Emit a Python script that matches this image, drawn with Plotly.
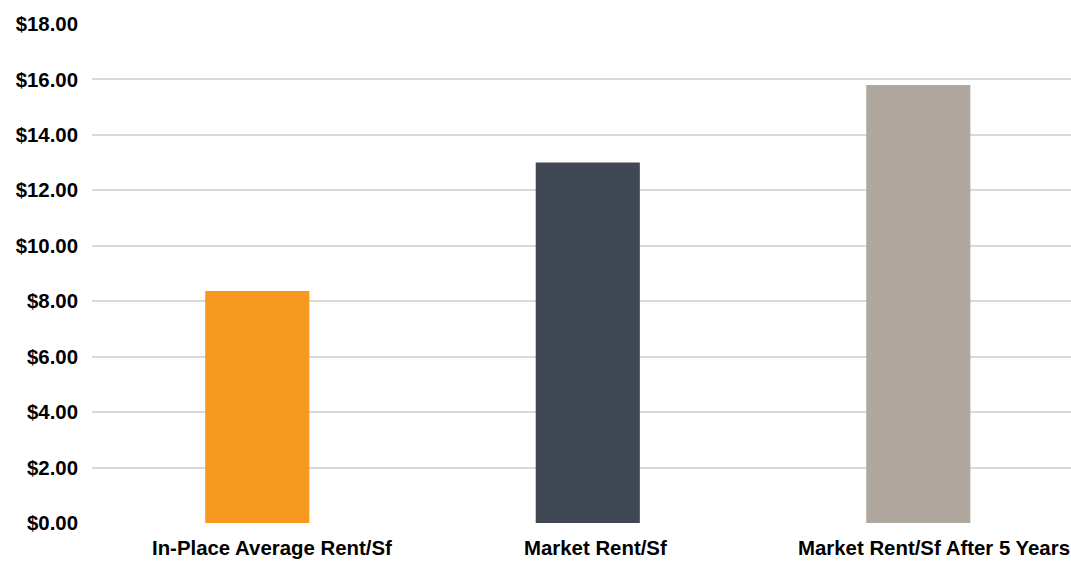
import plotly.graph_objects as go

categories = ["In-Place Average Rent/Sf", "Market Rent/Sf", "Market Rent/Sf After 5 Years"]
values = [8.37, 13.0, 15.8]
colors = ["#F7991E", "#404853", "#B0A79E"]
label_shifts = [15, 8, 16]
y_ticks = [0, 2, 4, 6, 8, 10, 12, 14, 16, 18]
y_tick_labels = ["$%.2f" % v for v in y_ticks]

FONT = "Liberation Sans, Arial, sans-serif"

fig = go.Figure(go.Bar(
    x=categories, y=values, marker=dict(color=colors, line=dict(width=0)),
    width=0.315,
))

for cat, sh in zip(categories, label_shifts):
    fig.add_annotation(
        x=cat, xref="x", y=-0.0501, yref="paper", yanchor="middle",
        text="<b>%s</b>" % cat, showarrow=False, xshift=sh,
        font=dict(size=20.4, family=FONT, color="black"),
    )

fig.update_layout(
    width=1071, height=561,
    margin=dict(l=92, r=0, t=24, b=38),
    paper_bgcolor="white", plot_bgcolor="white",
    showlegend=False,
    font=dict(family=FONT, color="black"),
    xaxis=dict(
        range=[-0.5, 2.462], showgrid=False, showline=False, zeroline=False,
        showticklabels=False,
    ),
    yaxis=dict(
        range=[0, 18], tickvals=y_ticks, ticktext=y_tick_labels,
        showgrid=True, gridcolor="#D9D9D9", gridwidth=1.5,
        zeroline=False, showline=False,
        tickfont=dict(size=20.4, family=FONT, weight="bold"),
        ticklabelstandoff=13,
    ),
)

fig.write_html("out.html")
